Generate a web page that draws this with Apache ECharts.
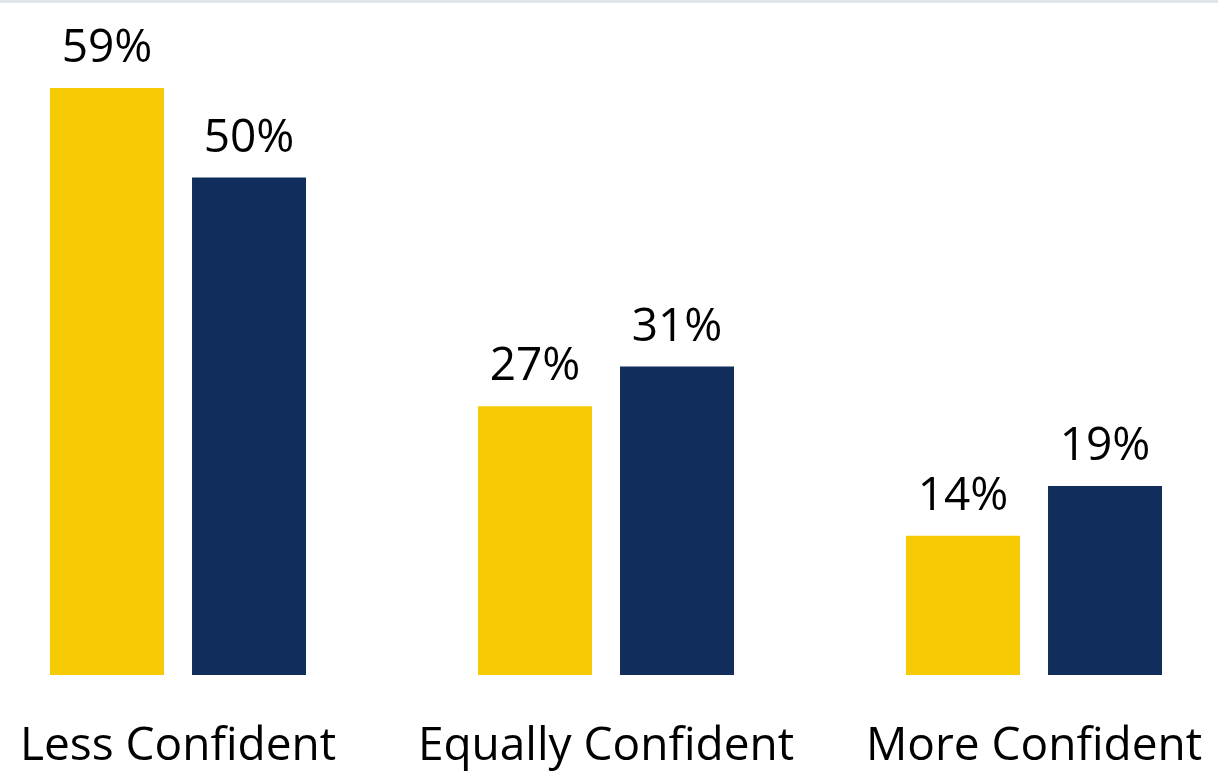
<!DOCTYPE html>
<html>
<head>
<meta charset="utf-8">
<style>
  html, body { margin: 0; padding: 0; background: #ffffff; overflow: hidden; }
  body { position: relative; width: 1218px; height: 771px; }
  #topline { position: absolute; left: 0; top: 0; width: 1218px; height: 3px; background: #e1e4e9; z-index: 2; }
  /* the plot spans slightly past both page edges so the groups sit where they should */
  #chart { position: absolute; left: -36px; top: 0; width: 1284px; height: 771px; }
</style>
<script src="https://cdn.jsdelivr.net/npm/echarts@6/dist/echarts.min.js"></script>
</head>
<body>
<div id="chart"></div>
<div id="topline"></div>
<script>
// Confidence shift, two groups compared per category (values in %)
const categories = ['Less Confident', 'Equally Confident', 'More Confident'];
const seriesA = [59, 27, 14];
const seriesB = [50, 31, 19];

const FONT = '"Open Sans", "Noto Sans", sans-serif';

const chart = echarts.init(document.getElementById('chart'), null, { renderer: 'canvas' });

const labelStyle = {
  show: true,
  position: 'top',
  distance: 16,
  formatter: '{c}%',
  color: '#000000',
  fontFamily: FONT,
  fontSize: 46
};

chart.setOption({
  animation: false,
  grid: { left: 0, right: 0, top: 78, bottom: 96, containLabel: false },
  xAxis: {
    type: 'category',
    data: categories,
    axisLine: { show: false },
    axisTick: { show: false },
    axisLabel: {
      color: '#000000',
      fontFamily: FONT,
      fontSize: 46,
      margin: 49,
      interval: 0
    }
  },
  yAxis: {
    type: 'value',
    min: 0,
    max: 60,
    show: false,
    splitLine: { show: false }
  },
  series: [
    {
      type: 'bar',
      data: seriesA,
      barWidth: 114,
      barGap: '24.6%',
      itemStyle: { color: '#f7ca06' },
      label: labelStyle
    },
    {
      type: 'bar',
      data: seriesB,
      barWidth: 114,
      barGap: '24.6%',
      itemStyle: { color: '#112d5b' },
      label: labelStyle
    }
  ]
});
</script>
</body>
</html>
